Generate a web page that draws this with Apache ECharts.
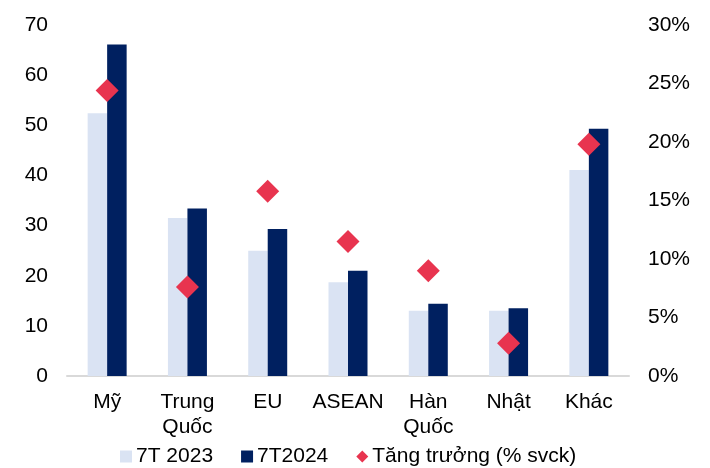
<!DOCTYPE html>
<html><head><meta charset="utf-8">
<script src="https://cdn.jsdelivr.net/npm/echarts@6/dist/echarts.min.js"></script>
<style>html,body{margin:0;padding:0;background:#fff}#c{width:710px;height:468px}</style>
</head><body><div id="c"></div>
<script>
const categories = ['Mỹ', 'Trung\nQuốc', 'EU', 'ASEAN', 'Hàn\nQuốc', 'Nhật', 'Khác'];
const v2023 = [52.4, 31.5, 25.0, 18.7, 13.0, 13.0, 41.1];
const v2024 = [66.1, 33.4, 29.3, 21.0, 14.4, 13.5, 49.3];
const growth = [24.4, 7.6, 15.8, 11.5, 9.0, 2.8, 19.8];
const leftTicks = [0, 70, 10];
const rightTicks = [0, 30, 5];

const font = 'Liberation Sans, Arial, sans-serif';
const chart = echarts.init(document.getElementById('c'));
chart.setOption({
  animation: false,
  grid: {left: 67, right: 81, top: 25, bottom: 92, containLabel: false},
  legend: {
    top: 441, left: 115, itemGap: 28, itemWidth: 12, itemHeight: 12,
    textStyle: {fontFamily: font, fontSize: 21, color: '#000', padding: [0, 0, 0, -1]},
    data: [
      {name: '7T 2023', icon: 'rect'},
      {name: '7T2024', icon: 'rect'},
      {name: 'Tăng trưởng (% svck)', icon: 'diamond'}
    ]
  },
  xAxis: {
    type: 'category', data: categories,
    axisLine: {lineStyle: {color: '#d9d9d9', width: 2}},
    axisTick: {show: false},
    axisLabel: {fontFamily: font, fontSize: 21, color: '#000', margin: 14, lineHeight: 25, interval: 0}
  },
  yAxis: [
    {type: 'value', min: leftTicks[0], max: leftTicks[1], interval: leftTicks[2],
     splitLine: {show: false}, axisLine: {show: false}, axisTick: {show: false},
     axisLabel: {fontFamily: font, fontSize: 21, color: '#000', margin: 19}},
    {type: 'value', min: rightTicks[0], max: rightTicks[1], interval: rightTicks[2],
     splitLine: {show: false}, axisLine: {show: false}, axisTick: {show: false},
     axisLabel: {fontFamily: font, fontSize: 21, color: '#000', margin: 19, formatter: '{value}%'}}
  ],
  series: [
    {name: '7T 2023', type: 'bar', data: v2023, barWidth: 19.5, barGap: '0%',
     itemStyle: {color: '#DAE3F3'}},
    {name: '7T2024', type: 'bar', data: v2024, barWidth: 19.5,
     itemStyle: {color: '#002060'}},
    {name: 'Tăng trưởng (% svck)', type: 'scatter', yAxisIndex: 1, data: growth,
     symbol: 'diamond', symbolSize: [23, 23], itemStyle: {color: '#E8344F', opacity: 1}, z: 5}
  ]
});
</script></body></html>
